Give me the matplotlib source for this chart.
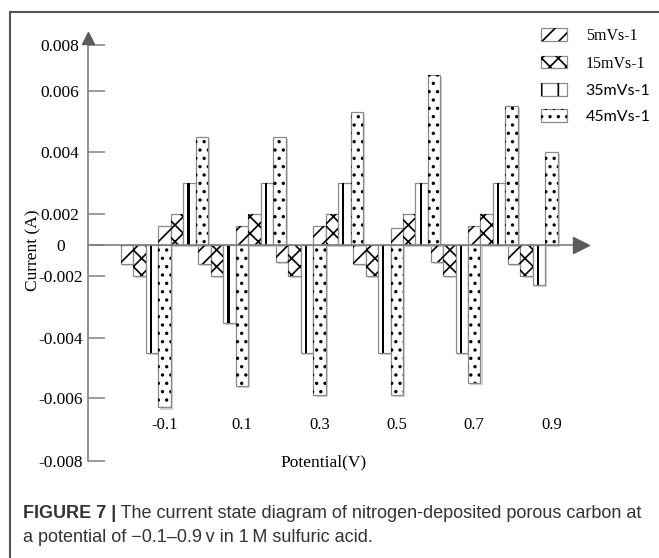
import numpy as np
import matplotlib
matplotlib.use('Agg')
import matplotlib.pyplot as plt
import matplotlib.patheffects as pe
from matplotlib.patches import Patch, Rectangle
from matplotlib.legend_handler import HandlerTuple

# Data
potentials = ['-0.1', '0.1', '0.3', '0.5', '0.7', '0.9']
scan_rates = ['5mVs-1', '15mVs-1', '35mVs-1', '45mVs-1']

# reduction currents (A)
neg_5 = [-0.0012, -0.0012, -0.0011, -0.0012, -0.0011, -0.0012]
neg_15 = [-0.0020, -0.0020, -0.0020, -0.0020, -0.0020, -0.0020]
neg_35 = [-0.0045, -0.0035, -0.0045, -0.0045, -0.0045, -0.0023]
neg_45 = [-0.0063, -0.0056, -0.0059, -0.0059, -0.0055, np.nan]
# oxidation currents (A)
pos_5 = [0.0012, 0.0012, 0.0012, 0.0011, 0.0012, np.nan]
pos_15 = [0.0020, 0.0020, 0.0020, 0.0020, 0.0020, np.nan]
pos_35 = [0.0030, 0.0030, 0.0030, 0.0030, 0.0030, np.nan]
pos_45 = [0.0045, 0.0045, 0.0053, 0.0067, 0.0055, 0.0040]

y_ticks = [-0.008, -0.006, -0.004, -0.002, 0, 0.002, 0.004, 0.006, 0.008]
y_tick_labels = ['-0.008', '-0.006', '-0.004', '-0.002', '0',
                 '0.002', '0.004', '0.006', '0.008']

# the original axis is drawn with uneven tick spacing (pixels between ticks)
tick_gaps = [63, 59.5, 62.5, 31, 31, 62, 61, 46]
bp_vals = np.array([-0.010] + y_ticks + [0.010])
bp_pos = np.cumsum([0, 63] + tick_gaps + [46], dtype=float)


def forward(v):
    return np.interp(v, bp_vals, bp_pos)


def inverse(p):
    return np.interp(p, bp_pos, bp_vals)


plt.rcParams['hatch.linewidth'] = 1.2
SERIF = 'Liberation Serif'
GRAY = '#808080'

fig = plt.figure(figsize=(6.59, 5.58), dpi=100)
W, H = 659, 558
ax = fig.add_axes([88 / W, 97 / H, (581 - 88) / W, (520 - 97) / H])
ax.set_yscale('function', functions=(forward, inverse))

idx = np.arange(len(potentials))
w = 0.161
neg = np.array([neg_5, neg_15, neg_35, neg_45])
pos = np.array([pos_5, pos_15, pos_35, pos_45])
neg_x = idx[None, :] + (np.arange(4)[:, None] - 3) * w
present = ~np.isnan(pos)
pos_x = idx[None, :] + (np.cumsum(present, axis=0) - 1) * w

hatches = ['//', 'xx', None, '..']
shadow = [pe.SimplePatchShadow(offset=(1.5, -1.5), shadow_rgbFace='#d4d4d4', alpha=1),
          pe.Normal()]

for k in range(4):
    nm = ~np.isnan(neg[k])
    xs = np.concatenate([neg_x[k][nm], pos_x[k][present[k]]])
    hs = np.concatenate([neg[k][nm], pos[k][present[k]]])
    ax.bar(xs, hs, w, color='white', edgecolor='#8a8a8a', linewidth=0.9,
           zorder=2, path_effects=shadow)
    if hatches[k]:
        ax.bar(xs, hs, w, fill=False, edgecolor='black', linewidth=0,
               hatch=hatches[k], zorder=3)
    else:
        # 35 mV bars carry a single black stripe
        ax.bar(xs - 0.08 * w, hs, 0.18 * w, color='black', linewidth=0, zorder=3)

ax.set_xlim(-0.99, 5.38)
ax.set_ylim(-0.008, 0.0083)

for s in ['top', 'right']:
    ax.spines[s].set_visible(False)
ax.spines['bottom'].set_position(('data', 0))
for s in ['left', 'bottom']:
    ax.spines[s].set_color(GRAY)
    ax.spines[s].set_linewidth(1.2)
    ax.spines[s].set_zorder(4)
ax.set_xticks([])
ax.set_yticks(y_ticks)
ax.set_yticklabels(y_tick_labels, family=SERIF, fontsize=12.5)
ax.tick_params(axis='y', direction='in', length=12, width=1.1, color=GRAY, pad=20)
for lab in ax.get_yticklabels():
    lab.set_ha('center')

# arrow heads
ax.plot(1, 0, marker='>', ms=12, color='#5a5a5a', transform=ax.get_yaxis_transform(),
        clip_on=False, zorder=5)
ax.plot(0, 1, marker='^', ms=9, color='#5a5a5a', transform=ax.transAxes,
        clip_on=False, zorder=5)

for i, p in enumerate(potentials):
    ax.text(i, 0.085, p, transform=ax.get_xaxis_transform(), ha='center', va='center',
            family=SERIF, fontsize=12)

fig.text(324 / W, 1 - 462 / H, 'Potential(V)', ha='center', va='center',
         family=SERIF, fontsize=12.5)
fig.text(33 / W, 1 - 250 / H, 'Current (A)', ha='center', va='center', rotation=90,
         family=SERIF, fontsize=12.5)

# legend
handles = []
for k in range(4):
    hk = hatches[k] if hatches[k] else '|'
    handles.append((Patch(facecolor='white', edgecolor='#8a8a8a', linewidth=0.9),
                    Patch(fill=False, edgecolor='black', linewidth=0, hatch=hk)))
leg = fig.legend(handles, scan_rates, handler_map={tuple: HandlerTuple(ndivide=1)},
                 loc='upper left', bbox_to_anchor=(541 / W, 1 - 28 / H), frameon=False,
                 handlelength=1.6, handleheight=0.85, labelspacing=0.72,
                 handletextpad=1.2, borderpad=0, borderaxespad=0,
                 prop={'family': SERIF, 'size': 11.5})
for t in leg.get_texts()[2:]:
    t.set_fontfamily('Lato')
    t.set_fontsize(11.5)

# frame around the panel
fig.add_artist(Rectangle((9.5 / W, -0.05), 1.2, 1 - 12 / H + 0.05, transform=fig.transFigure,
                         fill=False, edgecolor='#555555', linewidth=1.5))

# caption
renderer = fig.canvas.get_renderer()
t1 = fig.text(23 / W, 1 - 513 / H, 'FIGURE 7 |', weight='bold', family='Liberation Sans',
              fontsize=13, color='#333333', va='center')
bb = t1.get_window_extent(renderer)
fig.text(bb.x1 / fig.bbox.width, 1 - 513 / H,
         ' The current state diagram of nitrogen-deposited porous carbon at',
         family='Liberation Sans', fontsize=13, color='#333333', va='center')
fig.text(23 / W, 1 - 537 / H, 'a potential of \u22120.1\u20130.9\u2009v in 1\u2009M sulfuric acid.',
         family='Liberation Sans', fontsize=13, color='#333333', va='center')

fig.savefig('out.png', dpi=100)
